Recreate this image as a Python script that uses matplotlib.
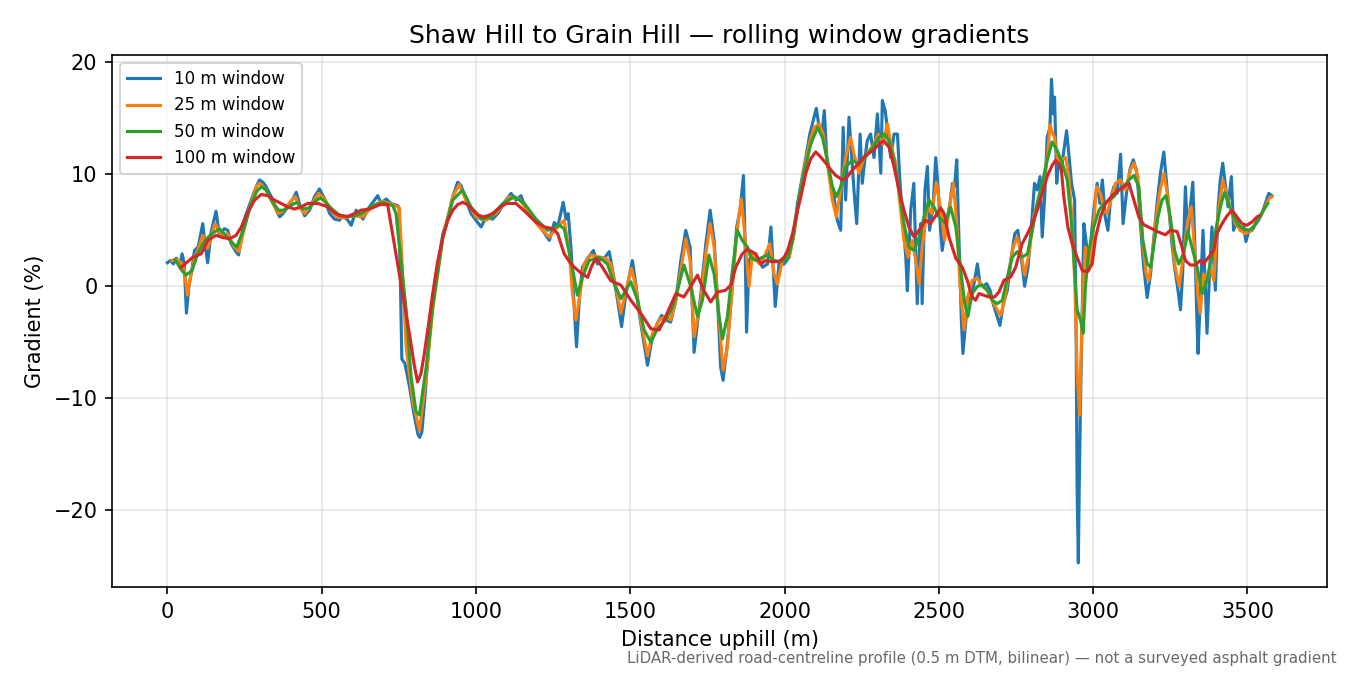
import matplotlib
matplotlib.use("Agg")
import matplotlib.pyplot as plt

# ---- data (distance m, gradient %) ----
x_10 = [0, 10, 20, 30, 40, 48, 55, 62, 70, 80, 88, 100, 115, 122, 131, 142, 158, 169, 185, 196,
        207, 223, 231, 250, 272, 288, 299, 310, 320, 337, 353, 364, 375, 390, 407, 418, 428, 445, 461, 477,
        493, 510, 526, 542, 558, 569, 585, 596, 612, 634, 655, 666, 682, 693, 709, 725, 747, 751, 760, 770,
        785, 800, 812, 818, 825, 833, 844, 852, 860, 876, 893, 909, 925, 941, 952, 968, 984, 1000, 1017, 1033,
        1054, 1071, 1092, 1114, 1130, 1146, 1162, 1178, 1200, 1216, 1238, 1254, 1265, 1275, 1283, 1292, 1299, 1308, 1319, 1326,
        1335, 1345, 1362, 1381, 1394, 1405, 1416, 1432, 1443, 1459, 1472, 1486, 1507, 1518, 1529, 1543, 1556, 1572, 1588, 1602,
        1615, 1631, 1648, 1664, 1680, 1694, 1707, 1729, 1745, 1759, 1772, 1783, 1793, 1801, 1815, 1831, 1845, 1856, 1867, 1872,
        1877, 1885, 1891, 1902, 1912, 1929, 1945, 1956, 1970, 1982, 1999, 2015, 2026, 2042, 2058, 2069, 2082, 2093, 2103, 2112,
        2121, 2129, 2137, 2146, 2157, 2171, 2182, 2190, 2198, 2209, 2218, 2225, 2234, 2245, 2252, 2261, 2268, 2279, 2290, 2301,
        2312, 2317, 2326, 2333, 2344, 2355, 2366, 2373, 2382, 2393, 2398, 2409, 2419, 2430, 2441, 2446, 2455, 2463, 2470, 2481,
        2490, 2498, 2506, 2511, 2519, 2528, 2536, 2544, 2551, 2558, 2565, 2573, 2578, 2587, 2594, 2603, 2614, 2625, 2633, 2644,
        2655, 2666, 2676, 2689, 2698, 2709, 2722, 2735, 2746, 2756, 2767, 2778, 2789, 2799, 2810, 2819, 2828, 2835, 2843, 2851,
        2860, 2865, 2871, 2875, 2882, 2889, 2897, 2905, 2914, 2921, 2930, 2940, 2945, 2948, 2952, 2955, 2959, 2965, 2970, 2978,
        2986, 2994, 3002, 3013, 3022, 3030, 3039, 3048, 3056, 3067, 3078, 3089, 3097, 3108, 3119, 3130, 3140, 3146, 3153, 3164,
        3175, 3186, 3196, 3207, 3218, 3229, 3236, 3245, 3254, 3264, 3275, 3283, 3290, 3299, 3307, 3315, 3323, 3329, 3337, 3340,
        3347, 3356, 3364, 3369, 3377, 3385, 3396, 3405, 3412, 3420, 3428, 3437, 3448, 3455, 3466, 3477, 3488, 3495, 3504, 3515,
        3525, 3536, 3547, 3558, 3569, 3579]
g_10 = [2.1, 2.3, 2.0, 2.5, 1.8, 2.9, 2.0, -2.4, 0.0, 1.5, 3.2, 3.5, 5.6, 3.8, 2.1, 4.85, 6.7, 4.55, 5.15, 5.0,
        3.8, 3.07, 2.8, 6.0, 7.7, 8.9, 9.5, 9.3, 8.9, 8.0, 6.8, 6.2, 6.5, 7.1, 7.8, 8.4, 7.4, 6.3, 6.8, 8.0,
        8.7, 7.8, 6.5, 6.0, 5.9, 6.3, 5.9, 5.45, 6.8, 6.0, 7.1, 7.5, 8.1, 7.4, 7.8, 7.4, 7.2, 7.0, -6.5, -6.9,
        -9.0, -11.5, -13.2, -13.5, -13.0, -10.5, -6.6, -3.5, -1.5, 1.7, 4.7, 6.0, 8.0, 9.3, 9.0, 7.7, 6.5, 5.9, 5.3, 6.2,
        6.0, 6.5, 7.5, 8.3, 7.7, 8.1, 6.9, 6.3, 5.7, 5.0, 4.1, 5.7, 5.3, 6.5, 7.5, 6.0, 6.5, 3.5, -2.1, -5.4,
        -1.25, 1.7, 2.5, 3.2, 2.0, 2.6, 2.5, 3.1, 1.4, -1.25, -3.6, -0.65, 2.3, 0.24, -2.4, -4.8, -7.05, -4.5, -3.3, -2.6,
        -3.0, -3.2, -1.25, 2.3, 5.0, 3.5, -5.9, -0.65, 3.8, 6.8, 4.1, -1.25, -7.2, -8.4, -5.1, 0.0, 5.3, 6.8, 9.9, 4.0,
        -4.1, 2.3, 2.6, 2.9, 2.6, 1.7, 2.0, 5.3, -1.8, 2.0, 2.0, 2.6, 4.1, 7.4, 9.8, 11.5, 13.6, 14.8, 15.9, 14.2,
        13.6, 15.7, 11.5, 9.8, 8.6, 5.9, 5.0, 14.2, 7.7, 15.1, 11.5, 8.6, 5.6, 13.6, 9.2, 11.5, 13.0, 13.6, 11.5, 15.4,
        10.1, 16.6, 15.7, 14.2, 11.5, 13.6, 13.6, 9.8, 6.2, 2.6, -0.4, 6.8, 9.2, -1.55, 5.6, -1.55, 8.6, 10.7, 5.0, 7.1,
        11.5, 8.6, 5.0, 3.2, 4.7, 6.2, 7.4, 9.2, 8.9, 11.3, 4.4, -3.0, -6.0, -3.3, -0.95, -1.25, 0.24, 2.0, 0.24, 0.0,
        0.24, -0.35, -1.55, -2.7, -3.5, -1.55, -0.35, 2.6, 4.7, 5.0, 2.6, 0.0, 1.7, 5.0, 9.2, 8.6, 9.8, 4.4, 8.0, 13.3,
        14.2, 18.5, 15.4, 16.9, 9.2, 11.5, 10.4, 12.1, 13.9, 11.9, 9.2, 7.7, -4.5, -17.9, -24.7, -17.9, -10.5, -1.55, 5.6, 3.8,
        1.4, 4.4, 6.8, 9.2, 7.4, 9.5, 6.2, 5.0, 7.7, 8.9, 8.3, 11.8, 5.6, 8.3, 10.4, 11.3, 10.4, 8.6, 5.6, 1.7,
        -1.0, 1.1, 4.1, 7.4, 10.1, 12.0, 9.8, 7.1, 4.1, 1.7, -0.35, -2.1, 1.1, 8.9, 4.4, 7.1, 9.3, 4.1, -3.6, -6.0,
        -1.25, 5.0, -0.35, -4.2, 1.1, 5.3, -0.35, 7.1, 9.5, 11.0, 9.2, 7.1, 9.8, 5.0, 5.9, 5.0, 5.3, 4.0, 4.9, 5.0,
        5.5, 5.9, 6.5, 7.4, 8.3, 8.1]

x_25 = [15, 30, 45, 55, 65, 75, 88, 100, 115, 131, 142, 155, 175, 195, 215, 232, 260, 290, 300, 320,
        340, 360, 375, 400, 415, 430, 445, 465, 490, 510, 530, 550, 575, 600, 634, 666, 698, 731, 752, 774,
        795, 817, 839, 860, 893, 925, 946, 968, 1000, 1033, 1065, 1108, 1141, 1173, 1205, 1238, 1265, 1286, 1302, 1313,
        1324, 1338, 1351, 1372, 1399, 1421, 1437, 1453, 1470, 1486, 1504, 1518, 1534, 1556, 1572, 1594, 1615, 1631, 1648, 1664,
        1680, 1694, 1707, 1729, 1745, 1759, 1772, 1788, 1801, 1815, 1831, 1845, 1860, 1869, 1885, 1896, 1918, 1934, 1952, 1966,
        1977, 1993, 2015, 2031, 2047, 2063, 2080, 2096, 2112, 2125, 2139, 2155, 2168, 2182, 2198, 2214, 2225, 2241, 2258, 2274,
        2290, 2304, 2319, 2333, 2347, 2360, 2373, 2387, 2400, 2414, 2427, 2436, 2446, 2463, 2477, 2492, 2506, 2519, 2533, 2547,
        2558, 2569, 2582, 2594, 2608, 2625, 2641, 2657, 2673, 2689, 2700, 2713, 2727, 2741, 2754, 2767, 2778, 2792, 2808, 2824,
        2840, 2853, 2860, 2867, 2875, 2886, 2897, 2911, 2921, 2932, 2941, 2948, 2956, 2961, 2968, 2975, 2986, 2997, 3011, 3024,
        3035, 3045, 3058, 3072, 3089, 3105, 3121, 3132, 3145, 3159, 3172, 3180, 3191, 3202, 3215, 3229, 3242, 3254, 3266, 3279,
        3293, 3307, 3318, 3329, 3340, 3347, 3358, 3369, 3380, 3391, 3405, 3420, 3434, 3448, 3461, 3477, 3493, 3509, 3525, 3547,
        3569, 3579]
g_25 = [2.3, 2.4, 2.1, 1.5, -0.8, 0.8, 2.5, 3.3, 4.55, 3.4, 4.5, 5.6, 4.6, 4.7, 3.6, 3.1, 6.4, 9.0, 9.2, 8.6,
        7.5, 6.5, 6.7, 7.6, 8.0, 7.0, 6.5, 7.2, 8.3, 7.8, 6.8, 6.2, 6.1, 6.3, 6.2, 7.2, 7.6, 7.3, 7.0, -5.4,
        -10.2, -12.9, -8.1, -2.1, 4.4, 8.0, 9.1, 7.7, 6.2, 5.9, 6.5, 8.0, 7.8, 6.5, 5.3, 4.4, 5.3, 5.9, 3.2, -0.65,
        -3.0, -0.65, 2.0, 2.8, 2.6, 2.5, 2.0, 0.0, -2.4, -0.35, 1.6, 0.0, -3.0, -6.2, -4.2, -3.0, -2.7, -3.0, -1.25, 1.4,
        4.25, 2.3, -4.5, -1.25, 2.9, 5.6, 3.5, -3.0, -7.5, -5.4, 0.0, 4.7, 7.8, 5.3, 0.0, 2.9, 2.0, 2.6, 3.8, 1.1,
        0.2, 2.3, 2.6, 4.7, 7.7, 10.4, 12.7, 14.2, 14.5, 13.6, 11.0, 7.7, 6.2, 8.6, 11.5, 13.3, 11.8, 10.1, 11.5, 12.1,
        12.7, 13.6, 12.7, 14.5, 12.4, 11.0, 7.7, 4.1, 2.6, 4.1, 2.0, 0.2, 3.5, 7.1, 6.5, 9.3, 6.8, 4.1, 6.8, 9.2,
        5.6, 0.0, -3.9, -0.95, 0.54, 0.7, 0.0, -0.36, -1.25, -2.1, -2.6, -1.25, 1.4, 3.5, 4.4, 2.9, 1.0, 2.9, 6.2, 8.0,
        9.5, 11.9, 14.4, 13.8, 13.3, 11.0, 11.3, 11.5, 9.8, 5.9, 0.0, -7.5, -11.5, -6.0, 0.0, 3.5, 1.4, 3.8, 8.9, 8.3,
        6.8, 6.5, 7.7, 9.2, 9.5, 8.6, 10.4, 11.0, 9.8, 4.4, 1.1, 0.5, 2.6, 5.6, 8.3, 10.1, 8.0, 4.7, 1.7, 0.0,
        3.0, 5.9, 7.1, 3.2, -0.95, -2.4, 1.1, 0.5, 1.7, 0.5, 6.5, 9.5, 8.0, 6.8, 5.6, 5.0, 4.7, 4.9, 5.6, 6.5,
        7.8, 8.0]

x_50 = [25, 45, 60, 80, 100, 120, 140, 169, 190, 210, 225, 250, 270, 290, 305, 320, 340, 360, 380, 405,
        420, 440, 460, 480, 495, 510, 530, 555, 580, 605, 630, 666, 698, 731, 741, 774, 790, 806, 817, 839,
        860, 893, 925, 957, 984, 1017, 1049, 1087, 1125, 1157, 1195, 1232, 1270, 1286, 1308, 1329, 1345, 1367, 1399, 1426,
        1448, 1470, 1502, 1524, 1545, 1567, 1588, 1615, 1637, 1653, 1674, 1696, 1718, 1734, 1755, 1772, 1788, 1799, 1815, 1831,
        1847, 1863, 1880, 1891, 1907, 1929, 1945, 1966, 1988, 2010, 2026, 2047, 2063, 2085, 2107, 2123, 2139, 2155, 2168, 2182,
        2198, 2220, 2241, 2263, 2285, 2306, 2322, 2339, 2355, 2371, 2387, 2403, 2420, 2436, 2452, 2468, 2484, 2500, 2522, 2538,
        2555, 2571, 2584, 2594, 2608, 2625, 2641, 2657, 2673, 2689, 2706, 2722, 2738, 2754, 2770, 2787, 2803, 2819, 2835, 2851,
        2867, 2884, 2900, 2916, 2929, 2940, 2948, 2959, 2968, 2975, 2986, 3002, 3019, 3035, 3051, 3067, 3083, 3099, 3116, 3132,
        3148, 3161, 3175, 3186, 3196, 3210, 3223, 3236, 3250, 3264, 3277, 3293, 3307, 3320, 3337, 3353, 3369, 3385, 3401, 3415,
        3426, 3439, 3455, 3471, 3488, 3504, 3520, 3536, 3552, 3566]
g_50 = [2.4, 1.5, 1.0, 1.4, 3.0, 4.0, 4.6, 5.15, 4.5, 3.9, 3.5, 5.3, 7.2, 8.5, 8.9, 8.6, 7.6, 6.8, 6.8, 7.3,
        7.5, 6.9, 7.0, 7.6, 7.9, 7.6, 7.0, 6.4, 6.2, 6.3, 6.5, 7.2, 7.5, 7.2, 6.5, -2.1, -8.1, -11.2, -11.5, -7.2,
        -1.8, 4.4, 7.7, 8.6, 7.1, 6.0, 6.2, 7.4, 8.0, 7.4, 6.0, 5.0, 5.45, 5.15, 2.3, -0.8, 0.8, 2.3, 2.6, 2.0,
        0.24, -1.1, 0.4, -1.25, -3.9, -5.0, -3.8, -3.0, -1.85, -0.36, 1.9, 0.0, -2.7, -1.25, 2.8, 1.1, -2.7, -4.7, -2.7, 1.4,
        5.0, 4.1, 3.5, 2.6, 2.3, 2.6, 2.8, 2.3, 2.2, 2.5, 4.1, 7.7, 10.1, 12.7, 14.2, 13.3, 11.25, 8.9, 8.0, 8.9,
        10.7, 11.25, 10.95, 11.55, 12.4, 13.3, 13.6, 13.0, 11.25, 8.6, 5.6, 3.5, 3.2, 4.4, 6.2, 7.7, 7.1, 6.2, 5.6, 7.1,
        5.3, 1.4, -1.55, -2.7, -0.65, 0.0, 0.1, -0.35, -1.25, -1.55, -1.25, 0.8, 2.6, 3.1, 2.6, 2.9, 5.0, 7.4, 9.2, 11.25,
        12.9, 12.1, 11.0, 9.5, 5.9, 1.4, -2.1, -3.0, -4.2, -0.06, 3.2, 5.3, 6.8, 7.4, 7.7, 8.0, 8.6, 8.9, 9.5, 9.9,
        8.9, 4.1, 2.0, 1.7, 3.5, 6.2, 7.7, 8.1, 6.2, 3.2, 2.0, 2.9, 4.9, 3.5, 1.7, -0.65, 0.54, 2.9, 5.6, 7.4,
        8.4, 7.4, 6.2, 5.45, 5.15, 5.0, 5.3, 6.05, 6.8, 7.4]

x_100 = [45, 83, 110, 131, 158, 180, 202, 223, 240, 259, 283, 304, 326, 347, 369, 390, 412, 434, 455, 488,
         520, 542, 563, 585, 607, 628, 655, 690, 714, 757, 785, 800, 811, 822, 833, 846, 860, 876, 893, 909,
         925, 941, 957, 973, 990, 1006, 1022, 1038, 1054, 1076, 1098, 1130, 1162, 1195, 1222, 1249, 1265, 1286, 1303, 1319,
         1340, 1351, 1362, 1375, 1389, 1410, 1437, 1470, 1502, 1534, 1567, 1594, 1615, 1648, 1674, 1696, 1718, 1739, 1761, 1783,
         1809, 1826, 1842, 1863, 1880, 1907, 1923, 1939, 1961, 1982, 1999, 2010, 2026, 2042, 2053, 2069, 2085, 2101, 2117, 2134,
         2150, 2166, 2188, 2204, 2220, 2241, 2263, 2285, 2306, 2322, 2339, 2355, 2371, 2387, 2403, 2420, 2436, 2457, 2473, 2490,
         2506, 2517, 2533, 2555, 2576, 2592, 2608, 2619, 2630, 2646, 2662, 2681, 2695, 2711, 2733, 2749, 2770, 2787, 2803, 2819,
         2835, 2851, 2867, 2878, 2889, 2897, 2905, 2918, 2932, 2948, 2965, 2981, 2997, 3008, 3024, 3040, 3062, 3083, 3105, 3116,
         3132, 3148, 3164, 3186, 3207, 3234, 3250, 3272, 3288, 3299, 3315, 3331, 3347, 3358, 3374, 3391, 3401, 3418, 3434, 3450,
         3466, 3482, 3498, 3515, 3531, 3538]
g_100 = [1.7, 2.6, 2.9, 4.1, 4.55, 4.35, 4.25, 4.55, 5.3, 6.5, 7.7, 8.2, 8.1, 7.7, 7.4, 7.1, 6.9, 7.1, 7.4, 7.4,
         7.1, 6.55, 6.3, 6.25, 6.5, 6.8, 6.9, 7.3, 7.3, 0.3, -4.3, -7.0, -8.55, -7.8, -6.0, -3.5, -0.65, 2.2, 4.4, 5.9,
         6.8, 7.3, 7.5, 7.3, 6.8, 6.4, 6.2, 6.3, 6.5, 7.0, 7.4, 7.4, 6.6, 5.7, 5.3, 5.15, 4.7, 2.9, 2.2, 1.7,
         1.2, 1.0, 0.8, 1.8, 2.5, 1.7, 0.5, 0.1, -1.25, -2.4, -3.8, -3.9, -2.7, -0.65, -0.95, 0.0, 1.0, -0.4, -1.4, -0.5,
         -0.36, 0.1, 1.7, 2.9, 3.3, 2.9, 2.0, 2.3, 2.2, 2.2, 2.6, 3.2, 4.7, 6.8, 8.0, 10.1, 11.4, 12.0, 11.55, 11.0,
         10.4, 9.9, 9.5, 9.8, 10.4, 11.0, 11.7, 12.1, 12.7, 13.0, 12.4, 10.65, 8.6, 6.8, 5.3, 4.4, 5.0, 5.9, 5.6, 6.3,
         7.0, 6.5, 4.4, 2.5, 1.7, 0.54, -0.95, -1.25, -0.65, -0.8, -0.95, -0.95, -0.5, 0.54, 0.84, 1.7, 3.8, 4.7, 5.6, 6.8,
         8.3, 9.8, 10.8, 11.25, 10.96, 10.4, 8.0, 5.3, 3.8, 2.6, 1.4, 1.3, 2.0, 4.4, 6.2, 7.4, 8.1, 8.6, 9.0, 9.2,
         7.7, 6.2, 5.5, 5.2, 4.9, 4.6, 5.0, 4.9, 3.5, 2.3, 1.9, 1.9, 2.3, 2.0, 2.6, 3.2, 4.7, 5.6, 6.3, 6.8,
         6.2, 5.6, 5.45, 5.75, 6.2, 6.3]

series = [
    (x_10, g_10, "10 m window", "#1f77b4"),
    (x_25, g_25, "25 m window", "#ff7f0e"),
    (x_50, g_50, "50 m window", "#2ca02c"),
    (x_100, g_100, "100 m window", "#d62728"),
]

fig, ax = plt.subplots(figsize=(9, 4.5), dpi=150)
fig.subplots_adjust(left=0.083, right=0.983, top=0.9185, bottom=0.1304)

for xs, ys, label, color in series:
    ax.plot(xs, ys, color=color, lw=1.5, label=label)

ax.set_title("Shaw Hill to Grain Hill \u2014 rolling window gradients", fontsize=12)
ax.set_xlabel("Distance uphill (m)", fontsize=10)
ax.set_ylabel("Gradient (%)", fontsize=10)
ax.grid(True, alpha=0.3)
ax.legend(loc="upper left", fontsize=8)

fig.text(0.99, 0.013,
         "LiDAR-derived road-centreline profile (0.5 m DTM, bilinear) \u2014 not a surveyed asphalt gradient",
         ha="right", va="bottom", fontsize=7.2, color="dimgray")

plt.savefig("out.png", dpi=150)
